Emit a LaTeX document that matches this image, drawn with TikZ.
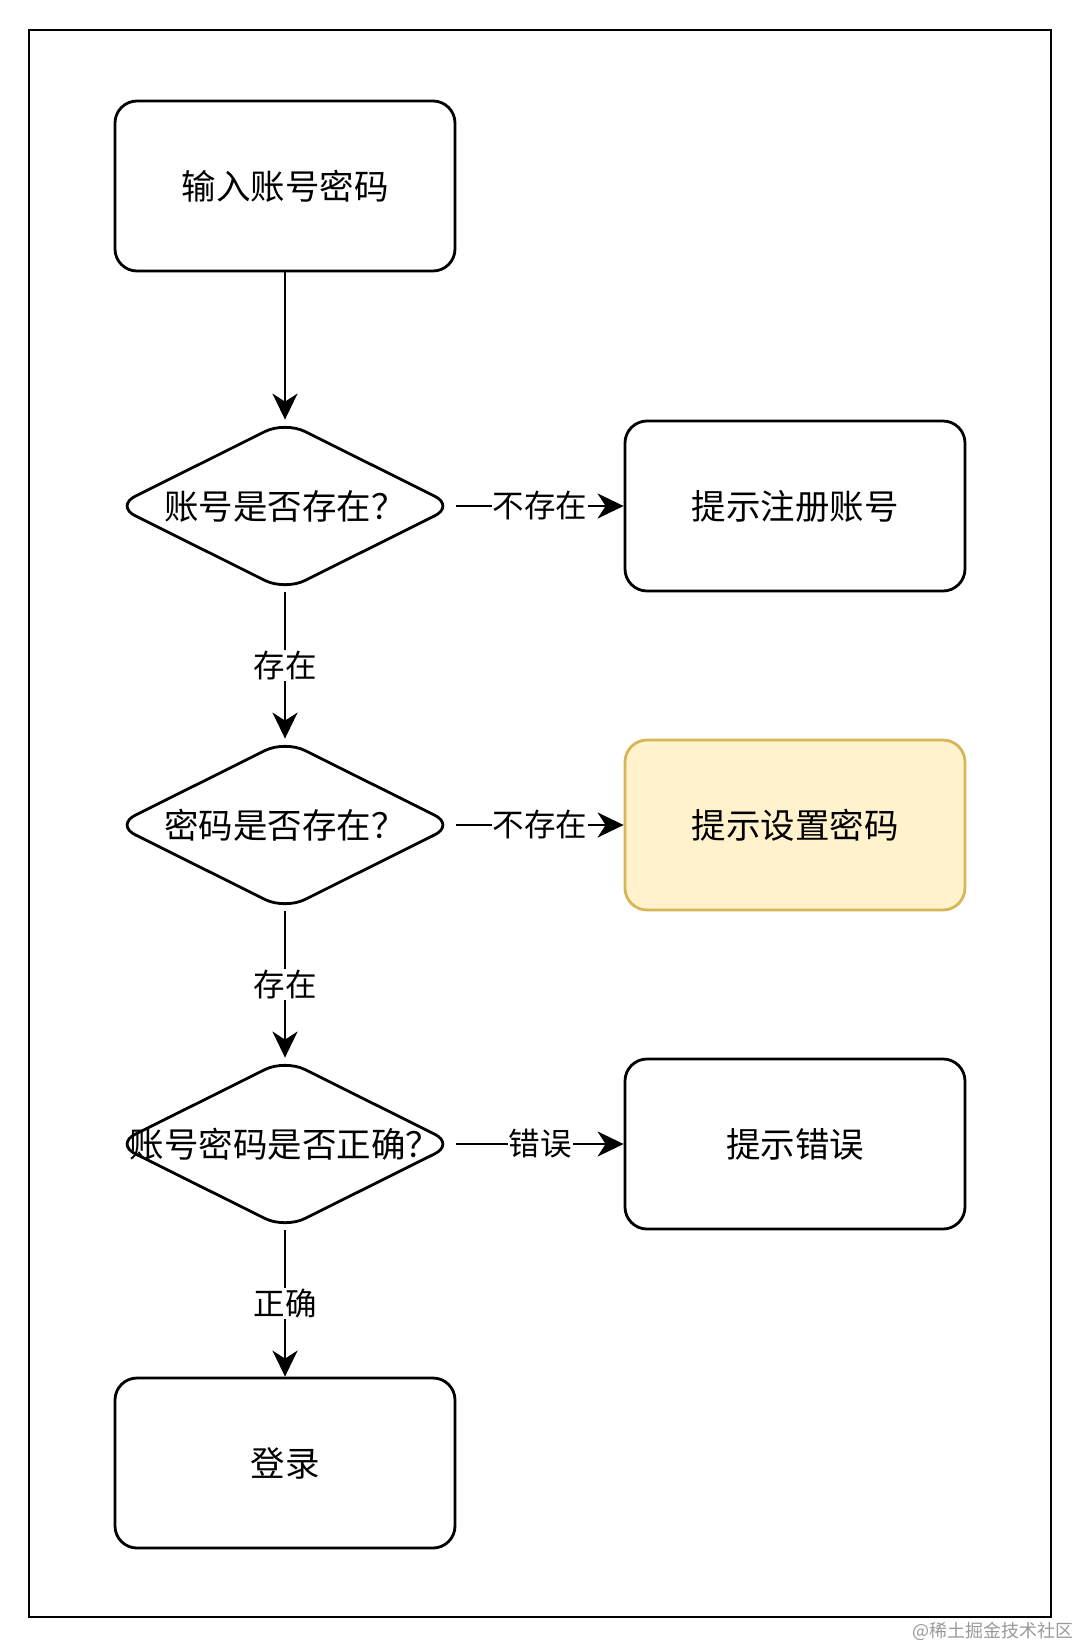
\documentclass[tikz,border=0pt]{standalone}
\usepackage{fontspec}
\usepackage{xcolor}
\usepackage{tikz}
\usetikzlibrary{shapes.geometric, arrows.meta}
\newfontfamily\cjk{Noto Sans CJK SC}
\definecolor{noteFill}{HTML}{FFF2CC}
\definecolor{noteLine}{HTML}{D6B656}
\tikzset{
  block/.style={draw, line width=2.8pt, rounded corners=22pt, minimum width=340pt, minimum height=170pt, font=\cjk\fontsize{34.5}{40}\selectfont},
  decision/.style={draw, diamond, aspect=2, line width=2.8pt, rounded corners=22pt, minimum width=340pt, minimum height=170pt, inner sep=0pt, font=\cjk\fontsize{34.5}{40}\selectfont},
  flow/.style={line width=2.6pt, -{Stealth[length=26pt, width=25pt, inset=8pt]}},
  tag/.style={fill=white, inner sep=1pt, font=\cjk\fontsize{31.5}{36}\selectfont}
}
\begin{document}
\begin{tikzpicture}[x=1pt, y=-1pt]
\useasboundingbox (0,0) rectangle (1080,1647);
\draw[line width=2.8pt] (29,30) rectangle (1051,1617);

\node[block] (input) at (285,186) {输入账号密码};
\node[decision] (hasUser) at (285,506) {\makebox[0pt]{账号是否存在？}};
\node[decision] (hasPwd) at (285,825) {\makebox[0pt]{密码是否存在？}};
\node[decision] (checkPwd) at (285,1144) {\makebox[0pt]{账号密码是否正确？}};
\node[block] (login) at (285,1463) {登录};

\node[block] (register) at (795,506) {提示注册账号};
\node[block, fill=noteFill, draw=noteLine] (setPwd) at (795,825) {提示设置密码};
\node[block] (wrong) at (795,1144) {提示错误};

\draw[flow] (input) -- (hasUser);
\draw[flow] (hasUser) -- node[tag] {存在} (hasPwd);
\draw[flow] (hasPwd) -- node[tag] {存在} (checkPwd);
\draw[flow] (checkPwd) -- node[tag] {正确} (login);
\draw[flow] (hasUser) -- node[tag] {不存在} (register);
\draw[flow] (hasPwd) -- node[tag] {不存在} (setPwd);
\draw[flow] (checkPwd) -- node[tag] {错误} (wrong);

\node[text=black!40, font=\cjk\fontsize{18}{20}\selectfont] (mark) at (993,1631) {@稀土掘金技术社区};
\end{tikzpicture}
\end{document}
